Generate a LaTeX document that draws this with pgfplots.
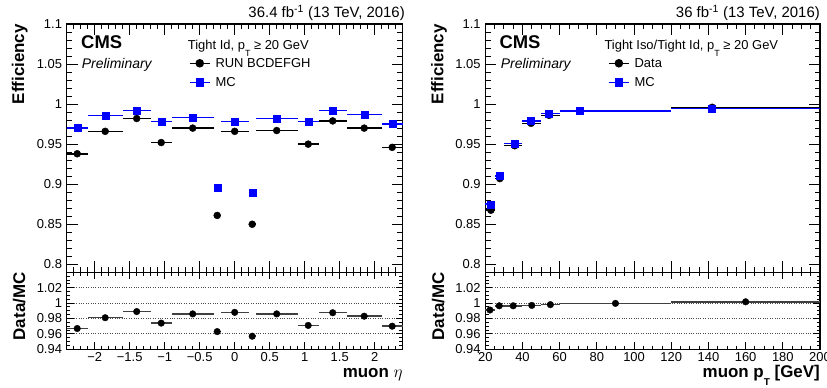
\documentclass[border=0pt]{standalone}
\usepackage{pgfplots}
\pgfplotsset{compat=1.18}
\usepackage{fontspec}
\setmainfont{Liberation Sans}
\newcommand{\fs}[1]{\fontsize{#1}{#1}\selectfont}
\pgfplotsset{
  cmsaxis/.style={
    scale only axis, anchor=south west,
    axis line style={line width=1.2bp},
    tick style={line width=0.9bp, black},
    tick align=inside,
    xtick pos=both, ytick pos=both,
    /pgf/number format/assume math mode=true,
    yticklabel style={font=\fs{13}, inner sep=0pt, xshift=-4.5bp},
    xticklabel style={font=\fs{13}, inner sep=0pt, yshift=-3.2bp},
    clip=false,
  },
  topaxis/.style={cmsaxis, height=248.3bp, ymin=0.79, ymax=1.1,
    ytick={0.8,0.85,0.9,0.95,1,1.05,1.1},
    yticklabels={0.8,0.85,0.9,0.95,1,1.05,1.1},
    minor ytick={0.79,0.8,...,1.1},
    major tick length=11bp, minor tick length=5.5bp,
    xticklabels={},
    legend cell align=left,
  },
  ratioaxis/.style={cmsaxis, height=77bp, ymin=0.94, ymax=1.04,
    ytick={0.94,0.96,0.98,1,1.02},
    yticklabels={0.94,0.96,0.98,1,1.02},
    minor ytick={0.94,0.945,...,1.04},
    major tick length=7bp, minor tick length=3.5bp,
    ymajorgrids, major grid style={dotted, black!70, line width=0.8bp},
  },
  dat/.style={black, only marks, mark=*, mark size=3.5bp, forget plot,
    error bars/.cd, x dir=both, x explicit, error mark=none,
    error bar style={line width=1.5bp, black}},
  mcs/.style={blue, only marks, mark=square*, mark size=3.5bp, forget plot,
    error bars/.cd, x dir=both, x explicit, error mark=none,
    error bar style={line width=1.5bp, blue}},
  rat/.style={black, only marks, mark=*, mark size=3.3bp, forget plot,
    error bars/.cd, x dir=both, x explicit, error mark=none,
    error bar style={line width=1.5bp, black!75}},
  lgimg/.style={legend image code/.code={\draw[mark repeat=2,mark phase=2,##1] plot coordinates {(0bp,0bp) (10bp,0bp) (20bp,0bp)};}},
  lgstyle/.style={legend style={at={(axis description cs:#1,0.8605)}, anchor=north west,
    draw=none, fill=none, inner sep=0pt, outer sep=0pt, row sep=9.7bp,
    font=\fs{13}, nodes={inner sep=0pt, text height=9.3bp, text depth=0bp},
    /tikz/every odd column/.append style={column sep=5bp}}},
}
\begin{document}
\begin{tikzpicture}
\useasboundingbox (0,0) rectangle (827bp,388bp);
% ---------------- left top ----------------
\begin{axis}[topaxis, at={(66.7bp,115.7bp)}, width=336bp,
  xmin=-2.4, xmax=2.4, xtick={-2,-1.5,...,2}, minor xtick={-2.4,-2.3,...,2.4},
  lgstyle=0.364]
\addplot[dat] table[x=x, y=y, x error=ex] {
x y ex
-2.25 0.938 0.15
-1.85 0.966 0.25
-1.4 0.982 0.2
-1.05 0.952 0.15
-0.6 0.970 0.3
-0.25 0.861 0.05
0 0.966 0.2
0.25 0.850 0.05
0.6 0.967 0.3
1.05 0.950 0.15
1.4 0.979 0.2
1.85 0.970 0.25
2.25 0.946 0.15
};
\addplot[mcs] table[x=x, y=y, x error=ex] {
x y ex
-2.25 0.970 0.15
-1.85 0.986 0.25
-1.4 0.992 0.2
-1.05 0.978 0.15
-0.6 0.983 0.3
-0.25 0.895 0.05
0 0.978 0.2
0.25 0.889 0.05
0.6 0.982 0.3
1.05 0.978 0.15
1.4 0.992 0.2
1.85 0.987 0.25
2.25 0.975 0.15
};
\addlegendimage{black, line width=1.5bp, mark=*, mark size=3.5bp, lgimg}
\addlegendentry{RUN BCDEFGH}
\addlegendimage{blue, line width=1.5bp, mark=square*, mark size=3.5bp, lgimg}
\addlegendentry{MC}
\end{axis}
% ---------------- left ratio ----------------
\begin{axis}[ratioaxis, at={(66.7bp,38.7bp)}, width=336bp,
  xmin=-2.4, xmax=2.4, xtick={-2,-1.5,...,2},
  xticklabels={−2,−1.5,−1,−0.5,0,0.5,1,1.5,2},
  minor xtick={-2.4,-2.3,...,2.4}]
\addplot[rat] table[x=x, y=y, x error=ex] {
x y ex
-2.25 0.967 0.15
-1.85 0.981 0.25
-1.4 0.989 0.2
-1.05 0.974 0.15
-0.6 0.986 0.3
-0.25 0.963 0.05
0 0.988 0.2
0.25 0.957 0.05
0.6 0.986 0.3
1.05 0.971 0.15
1.4 0.9875 0.2
1.85 0.983 0.25
2.25 0.970 0.15
};
\end{axis}
% ---------------- right top ----------------
\begin{axis}[topaxis, at={(485.3bp,115.7bp)}, width=334.7bp,
  xmin=20, xmax=200, xtick={20,40,...,200}, minor xtick={20,25,...,200},
  lgstyle=0.367]
\addplot[dat] table[x=x, y=y, x error plus=ep, x error minus=em] {
x y em ep
23.0 0.8675 3.0 2.0
27.8 0.907 2.8 2.2
35.8 0.948 5.8 4.2
44.6 0.976 4.6 5.4
54.3 0.986 4.3 5.7
71.0 0.991 11.0 49.0
142.0 0.996 22.0 58.0
};
\addplot[mcs] table[x=x, y=y, x error plus=ep, x error minus=em] {
x y em ep
23.0 0.875 3.0 2.0
27.8 0.910 2.8 2.2
35.8 0.951 5.8 4.2
44.6 0.979 4.6 5.4
54.3 0.988 4.3 5.7
71.0 0.9914 11.0 49.0
142.0 0.9945 22.0 58.0
};
\addlegendimage{black, line width=1.5bp, mark=*, mark size=3.5bp, lgimg}
\addlegendentry{Data}
\addlegendimage{blue, line width=1.5bp, mark=square*, mark size=3.5bp, lgimg}
\addlegendentry{MC}
\end{axis}
% ---------------- right ratio ----------------
\begin{axis}[ratioaxis, at={(485.3bp,38.7bp)}, width=334.7bp,
  xmin=20, xmax=200, xtick={20,40,...,200}, minor xtick={20,25,...,200}]
\addplot[rat] table[x=x, y=y, x error=ex] {
x y ex
22.5 0.991 2.5
27.5 0.9965 2.5
35 0.9965 5
45 0.997 5
55 0.998 5
90 0.9996 30
160 1.0017 40
};
\end{axis}
% ---------------- texts ----------------
\node[anchor=base east, inner sep=0pt, font=\fs{15}] at (405bp,370bp) {36.4 fb\textsuperscript{-1} (13 TeV, 2016)};
\node[anchor=base east, inner sep=0pt, font=\fs{15}] at (820bp,370bp) {36 fb\textsuperscript{-1} (13 TeV, 2016)};
\node[anchor=base west, inner sep=0pt, font=\bfseries\fs{18.5}] at (81bp,339.7bp) {CMS};
\node[anchor=base west, inner sep=0pt, font=\itshape\fs{14}] at (81.7bp,319.7bp) {Preliminary};
\node[anchor=base west, inner sep=0pt, font=\bfseries\fs{18.5}] at (499.3bp,339.7bp) {CMS};
\node[anchor=base west, inner sep=0pt, font=\itshape\fs{14}] at (500.7bp,319.7bp) {Preliminary};
\node[anchor=base west, inner sep=0pt, font=\fs{13}] at (187.7bp,338bp) {Tight Id, p\raisebox{-6.5bp}{\fs{9}T} ≥ 20 GeV};
\node[anchor=base west, inner sep=0pt, font=\fs{13}] at (604.3bp,338bp) {Tight Iso/Tight Id, p\raisebox{-6.5bp}{\fs{9}T} ≥ 20 GeV};
\node[rotate=90, anchor=base east, inner sep=0pt, font=\bfseries\fs{17}] at (24bp,364bp) {Efficiency};
\node[rotate=90, anchor=base east, inner sep=0pt, font=\bfseries\fs{17}] at (25bp,115.7bp) {Data/MC};
\node[rotate=90, anchor=base east, inner sep=0pt, font=\bfseries\fs{17}] at (443.3bp,364bp) {Efficiency};
\node[rotate=90, anchor=base east, inner sep=0pt, font=\bfseries\fs{17}] at (444bp,115.7bp) {Data/MC};
\node[anchor=base east, inner sep=0pt, font=\bfseries\fs{17}] at (402.7bp,11bp) {muon $\eta$};
\node[anchor=base east, inner sep=0pt, font=\bfseries\fs{17}] at (820bp,11bp) {muon p\raisebox{-8bp}{\fs{10}T} [GeV]};
\end{tikzpicture}
\end{document}
